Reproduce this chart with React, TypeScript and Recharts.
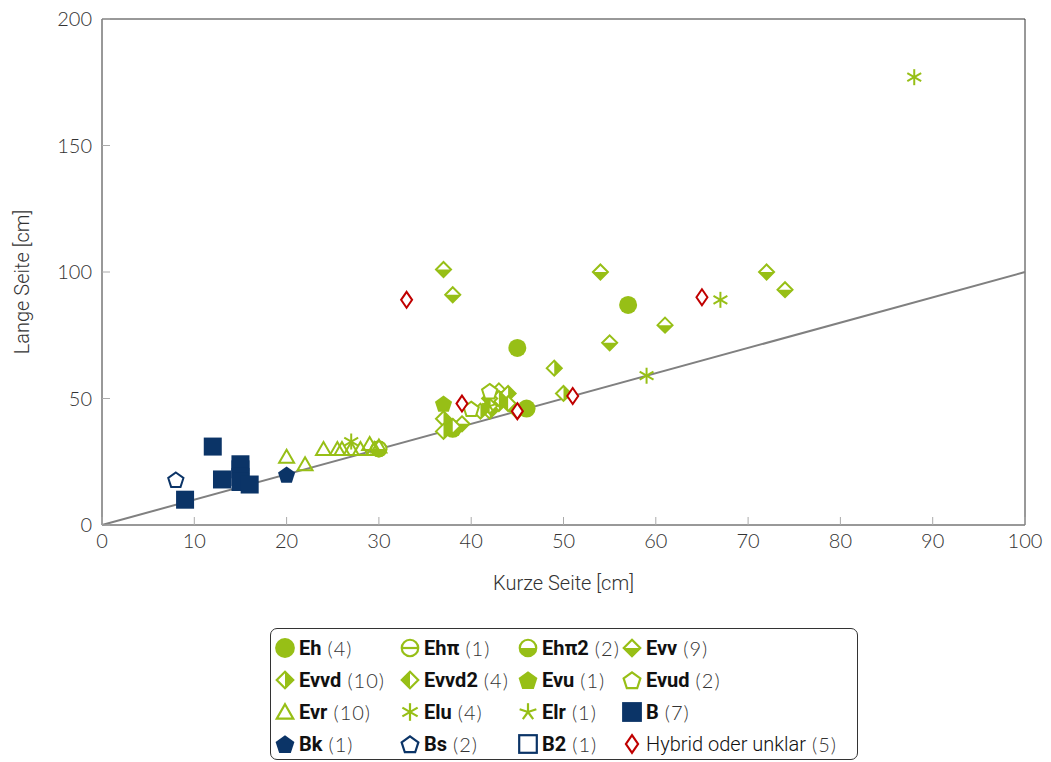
import React from "react";
import { ScatterChart, Scatter, XAxis, YAxis, ReferenceLine, ReferenceArea } from "recharts";

const GREEN = "#97bf16";
const NAVY = "#0b3467";
const RED = "#c00000";

// data: [kurze Seite, lange Seite]
const eh = [{ x: 57, y: 87 }, { x: 45, y: 70 }, { x: 46, y: 46 }, { x: 38, y: 38 }];
const ehPi = [{ x: 30, y: 30 }];
const ehPi2 = [{ x: 30, y: 30 }, { x: 38, y: 38 }];
const evv = [
  { x: 37, y: 101 }, { x: 38, y: 91 }, { x: 54, y: 100 }, { x: 72, y: 100 }, { x: 74, y: 93 },
  { x: 61, y: 79 }, { x: 55, y: 72 }, { x: 43, y: 53 }, { x: 39, y: 40 },
];
const evvd = [
  { x: 49, y: 62 }, { x: 50, y: 52 }, { x: 44, y: 52 }, { x: 43, y: 48 }, { x: 42, y: 45 },
  { x: 37, y: 42 }, { x: 37, y: 37 }, { x: 41, y: 45 }, { x: 43, y: 50 }, { x: 45, y: 45 },
];
const evvd2 = [{ x: 42, y: 50 }, { x: 44, y: 48 }, { x: 38, y: 39 }, { x: 42, y: 47 }];
const evu = [{ x: 37, y: 48 }];
const evud = [{ x: 42, y: 53 }, { x: 40, y: 46 }];
const evr = [
  { x: 20, y: 27 }, { x: 22, y: 24 }, { x: 24, y: 30 }, { x: 25.5, y: 30 }, { x: 26, y: 30 },
  { x: 28, y: 30 }, { x: 29, y: 32 }, { x: 29.5, y: 30 }, { x: 30, y: 31 }, { x: 27, y: 30 },
];
const elu = [{ x: 88, y: 177 }, { x: 67, y: 89 }, { x: 59, y: 59 }, { x: 27, y: 33 }];
const elr = [{ x: 42, y: 47 }];
const b = [
  { x: 12, y: 31 }, { x: 9, y: 10 }, { x: 13, y: 18 }, { x: 15, y: 24 }, { x: 15, y: 19 },
  { x: 15, y: 17 }, { x: 16, y: 16 },
];
const bk = [{ x: 20, y: 20 }];
const bs = [{ x: 8, y: 18 }, { x: 15, y: 21 }];
const b2 = [{ x: 15, y: 22 }];
const hybrid = [{ x: 33, y: 89 }, { x: 65, y: 90 }, { x: 39, y: 48 }, { x: 45, y: 45 }, { x: 51, y: 51 }];

const xTicks = [0, 10, 20, 30, 40, 50, 60, 70, 80, 90, 100];
const yTicks = [0, 50, 100, 150, 200];

type Kind =
  | "circle" | "circleBar" | "circleHalf" | "diamondLow" | "diamondRight" | "diamondLeft"
  | "pentagon" | "pentagonOpen" | "triangleOpen" | "asterisk" | "star" | "square"
  | "squareOpen" | "diamondRed";

type Series = {
  name: string;
  count: number;
  data: { x: number; y: number }[];
  kind: Kind;
  color: string;
  plain?: boolean;
  z: number; // drawing order
};

const series: Series[] = [
  { name: "Eh", count: 4, data: eh, kind: "circle", color: GREEN, z: 3 },
  { name: "Ehπ", count: 1, data: ehPi, kind: "circleBar", color: GREEN, z: 4 },
  { name: "Ehπ2", count: 2, data: ehPi2, kind: "circleHalf", color: GREEN, z: 5 },
  { name: "Evv", count: 9, data: evv, kind: "diamondLow", color: GREEN, z: 6 },
  { name: "Evvd", count: 10, data: evvd, kind: "diamondRight", color: GREEN, z: 7 },
  { name: "Evvd2", count: 4, data: evvd2, kind: "diamondLeft", color: GREEN, z: 8 },
  { name: "Evu", count: 1, data: evu, kind: "pentagon", color: GREEN, z: 9 },
  { name: "Evud", count: 2, data: evud, kind: "pentagonOpen", color: GREEN, z: 10 },
  { name: "Evr", count: 10, data: evr, kind: "triangleOpen", color: GREEN, z: 11 },
  { name: "Elu", count: 4, data: elu, kind: "asterisk", color: GREEN, z: 12 },
  { name: "Elr", count: 1, data: elr, kind: "star", color: GREEN, z: 13 },
  { name: "B", count: 7, data: b, kind: "square", color: NAVY, z: 2 },
  { name: "Bk", count: 1, data: bk, kind: "pentagon", color: NAVY, z: 14 },
  { name: "Bs", count: 2, data: bs, kind: "pentagonOpen", color: NAVY, z: 1 },
  { name: "B2", count: 1, data: b2, kind: "squareOpen", color: NAVY, z: 0 },
  { name: "Hybrid oder unklar", count: 5, data: hybrid, kind: "diamondRed", color: RED, plain: true, z: 15 },
];

function pentagonPts(cx: number, cy: number, r: number) {
  const pts: string[] = [];
  for (let i = 0; i < 5; i++) {
    const a = -Math.PI / 2 + (i * 2 * Math.PI) / 5;
    pts.push(`${cx + r * Math.cos(a)},${cy + r * Math.sin(a)}`);
  }
  return pts.join(" ");
}

function Mark({ kind, cx, cy, color }: { kind: Kind; cx: number; cy: number; color: string }) {
  const sw = 2;
  switch (kind) {
    case "circle":
      return <circle cx={cx} cy={cy} r={9} fill={color} />;
    case "circleBar":
      return (
        <g>
          <circle cx={cx} cy={cy} r={7.5} fill="#fff" stroke={color} strokeWidth={sw} />
          <line x1={cx - 7.5} y1={cy} x2={cx + 7.5} y2={cy} stroke={color} strokeWidth={sw} />
        </g>
      );
    case "circleHalf":
      return (
        <g>
          <circle cx={cx} cy={cy} r={7.5} fill="#fff" stroke={color} strokeWidth={sw} />
          <path d={`M${cx - 7.5},${cy} A7.5,7.5 0 0 0 ${cx + 7.5},${cy} Z`} fill={color} />
        </g>
      );
    case "diamondLow":
    case "diamondRight":
    case "diamondLeft": {
      const h = 7.5;
      const outline = `${cx},${cy - h} ${cx + h},${cy} ${cx},${cy + h} ${cx - h},${cy}`;
      const half =
        kind === "diamondLow"
          ? `${cx - h},${cy} ${cx + h},${cy} ${cx},${cy + h}`
          : kind === "diamondRight"
          ? `${cx},${cy - h} ${cx + h},${cy} ${cx},${cy + h}`
          : `${cx},${cy - h} ${cx - h},${cy} ${cx},${cy + h}`;
      return (
        <g>
          <polygon points={outline} fill="#fff" stroke={color} strokeWidth={sw} />
          <polygon points={half} fill={color} />
        </g>
      );
    }
    case "diamondRed":
      return (
        <polygon
          points={`${cx},${cy - 8} ${cx + 5.5},${cy} ${cx},${cy + 8} ${cx - 5.5},${cy}`}
          fill="#fff"
          stroke={color}
          strokeWidth={sw}
        />
      );
    case "pentagon":
      return <polygon points={pentagonPts(cx, cy + 1, 9)} fill={color} />;
    case "pentagonOpen":
      return <polygon points={pentagonPts(cx, cy + 1, 8)} fill="#fff" stroke={color} strokeWidth={sw} />;
    case "triangleOpen":
      return (
        <polygon
          points={`${cx},${cy - 7} ${cx + 7.5},${cy + 6} ${cx - 7.5},${cy + 6}`}
          fill="#fff"
          fillOpacity={0}
          stroke={color}
          strokeWidth={sw}
        />
      );
    case "asterisk": {
      const r = 8;
      const dx = r * Math.cos(Math.PI / 6);
      const dy = r * Math.sin(Math.PI / 6);
      return (
        <g stroke={color} strokeWidth={sw}>
          <line x1={cx} y1={cy - r} x2={cx} y2={cy + r} />
          <line x1={cx - dx} y1={cy - dy} x2={cx + dx} y2={cy + dy} />
          <line x1={cx - dx} y1={cy + dy} x2={cx + dx} y2={cy - dy} />
        </g>
      );
    }
    case "star": {
      const r = 8;
      return (
        <g stroke={color} strokeWidth={sw}>
          {[0, 1, 2, 3, 4].map((i) => {
            const a = -Math.PI / 2 + (i * 2 * Math.PI) / 5;
            return <line key={i} x1={cx} y1={cy} x2={cx + r * Math.cos(a)} y2={cy + r * Math.sin(a)} />;
          })}
        </g>
      );
    }
    case "square":
      return <rect x={cx - 9} y={cy - 9} width={18} height={18} fill={color} />;
    case "squareOpen":
      return <rect x={cx - 8} y={cy - 8} width={16} height={16} fill="#fff" stroke={color} strokeWidth={sw} />;
  }
  return null;
}

const tickFont = { fontFamily: "Lato, sans-serif", fontSize: 20, fill: "#333", fontWeight: 300 };
const labelFont = { fontFamily: "Roboto, sans-serif", fontWeight: 300, fontSize: 20, fill: "#333" };

const XTick = (props: any) => {
  const { x, y, payload } = props;
  return (
    <g>
      <line x1={x} y1={y} x2={x} y2={y - 8} stroke="#aaa" />
      <text x={x} y={y + 23} textAnchor="middle" {...tickFont}>
        {payload.value}
      </text>
    </g>
  );
};

const YTick = (props: any) => {
  const { x, y, payload } = props;
  return (
    <g>
      <line x1={x} y1={y} x2={x + 8} y2={y} stroke="#aaa" />
      <text x={x - 10} y={y + 7} textAnchor="end" {...tickFont}>
        {payload.value}
      </text>
    </g>
  );
};

const YLabel = (props: any) => {
  const { viewBox } = props;
  const cx = 22;
  const cy = viewBox.y + viewBox.height / 2 + 10;
  return (
    <text x={cx} y={cy} transform={`rotate(-90 ${cx} ${cy})`} textAnchor="middle" dominantBaseline="central" {...labelFont}>
      Lange Seite [cm]
    </text>
  );
};

const legendCols = [285, 410, 528, 632];
const legendRows = [648, 680, 712, 744];

export default function App() {
  const drawOrder = [...series].sort((a, b) => a.z - b.z);
  return (
    <div style={{ position: "absolute", left: 0, top: 0, width: 1051, height: 762, background: "#fff" }}>
      <ScatterChart width={1051} height={610} margin={{ top: 19, right: 26, bottom: 15, left: 0 }}>
        <XAxis
          type="number"
          dataKey="x"
          domain={[0, 100]}
          ticks={xTicks}
          axisLine={false}
          tickLine={false}
          tickSize={0}
          tickMargin={0}
          tick={<XTick />}
          height={70}
          interval={0}
          label={{ value: "Kurze Seite [cm]", position: "insideBottom", offset: 5, style: labelFont }}
        />
        <YAxis
          type="number"
          dataKey="y"
          domain={[0, 200]}
          ticks={yTicks}
          axisLine={false}
          tickLine={false}
          tickSize={0}
          tickMargin={0}
          tick={<YTick />}
          width={102}
          interval={0}
          label={<YLabel />}
        />
        <ReferenceArea x1={0} x2={100} y1={0} y2={200} fill="none" stroke="#333" strokeWidth={1} ifOverflow="visible" />
        <ReferenceLine
          segment={[{ x: 0, y: 0 }, { x: 100, y: 100 }]}
          stroke="#808080"
          strokeWidth={2}
          ifOverflow="visible"
        />
        {drawOrder.map((s) => (
          <Scatter
            key={s.name}
            name={s.name}
            data={s.data}
            isAnimationActive={false}
            shape={(p: any) => <Mark kind={s.kind} cx={p.cx} cy={p.cy} color={s.color} />}
          />
        ))}
      </ScatterChart>
      <div
        style={{
          position: "absolute",
          left: 270,
          top: 628,
          width: 588,
          height: 132,
          border: "1px solid #333",
          borderRadius: 7,
          boxSizing: "border-box",
        }}
      />
      {series.map((s, i) => {
        const cx = legendCols[i % 4];
        const cy = legendRows[Math.floor(i / 4)];
        return (
          <div
            key={s.name}
            style={{
              position: "absolute",
              left: cx - 11,
              top: cy - 13,
              height: 26,
              display: "flex",
              alignItems: "center",
              whiteSpace: "nowrap",
              fontFamily: "Roboto, sans-serif",
              fontSize: 20,
              color: "#111",
            }}
          >
            <svg width={22} height={24} style={{ marginRight: 3 }}>
              <g transform="translate(11 12) scale(1.1)">
                <Mark kind={s.kind} cx={0} cy={0} color={s.color} />
              </g>
            </svg>
            <span style={{ fontWeight: s.plain ? 300 : 700 }}>{s.name}</span>
            <span
              style={{ fontWeight: 300, marginLeft: 6, fontFamily: "Lato, sans-serif", color: "#333", letterSpacing: 1 }}
            >
              ({s.count})
            </span>
          </div>
        );
      })}
    </div>
  );
}
